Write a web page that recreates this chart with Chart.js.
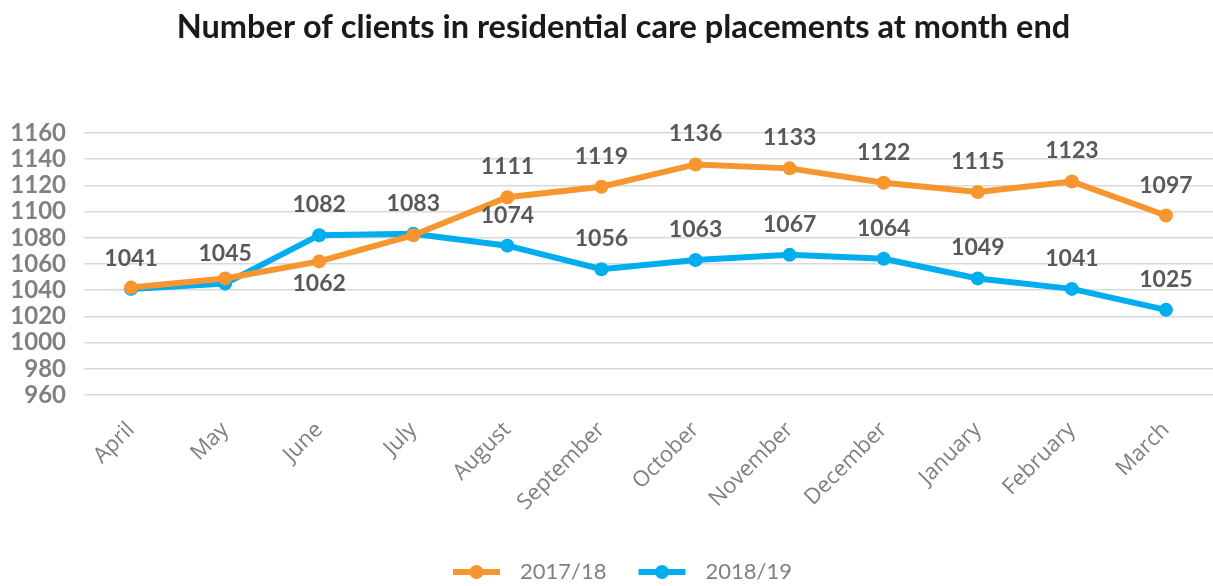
<!DOCTYPE html>
<html>
<head>
<meta charset="utf-8">
<script src="https://cdn.jsdelivr.net/npm/chart.js@4.4.0/dist/chart.umd.min.js"></script>
<style>
  html, body { margin: 0; padding: 0; background: #fff; overflow: hidden; }
  canvas { display: block; }
</style>
</head>
<body>
<canvas id="clientsChart" width="1213" height="586"></canvas>
<script>
const months = ['April', 'May', 'June', 'July', 'August', 'September', 'October', 'November', 'December', 'January', 'February', 'March'];
const series1Name = '2017/18';
const series2Name = '2018/19';
const clients1718 = [1042, 1049, 1062, 1082, 1111, 1119, 1136, 1133, 1122, 1115, 1123, 1097];
const clients1819 = [1041, 1045, 1082, 1083, 1074, 1056, 1063, 1067, 1064, 1049, 1041, 1025];
// which data labels are visible (others sit under the other series' label)
const show1718 = [false, false, true, false, true, true, true, true, true, true, true, true];
const below1718 = [false, false, true, false, false, false, false, false, false, false, false, false];
const show1819 = [true, true, true, true, true, true, true, true, true, true, true, true];
const yMin = 960;
const yMax = 1160;
const yStep = 20;
const chartTitle = 'Number of clients in residential care placements at month end';

const ORANGE = '#F7962F';
const BLUE = '#00AEEF';
const FONT = 'Lato, "Open Sans", sans-serif';

// title drawn by hand so it can sit a little right of centre like the original
const titlePlugin = {
  id: 'titlePlugin',
  afterDraw(chart) {
    const ctx = chart.ctx;
    ctx.save();
    ctx.font = 'bold 32.5px ' + FONT;
    ctx.fillStyle = '#1a1a1a';
    ctx.textAlign = 'center';
    ctx.textBaseline = 'middle';
    ctx.fillText(chartTitle, 623.5, 28);
    ctx.restore();
  }
};

const dataLabels = {
  id: 'dataLabels',
  afterDatasetsDraw(chart) {
    const ctx = chart.ctx;
    const flags = [show1718, show1819];
    ctx.save();
    ctx.font = 'bold 23px ' + FONT;
    ctx.fillStyle = '#595959';
    ctx.textAlign = 'center';
    ctx.textBaseline = 'alphabetic';
    chart.data.datasets.forEach((ds, di) => {
      const meta = chart.getDatasetMeta(di);
      meta.data.forEach((pt, i) => {
        if (!flags[di][i]) return;
        const below = di === 0 && below1718[i];
        const y = below ? pt.y + 30 : pt.y - 23;
        ctx.fillText(String(ds.data[i]), pt.x, y);
      });
    });
    ctx.restore();
  }
};

const bottomLegend = {
  id: 'bottomLegend',
  afterDraw(chart) {
    const ctx = chart.ctx;
    const items = [[series1Name, ORANGE], [series2Name, BLUE]];
    ctx.save();
    ctx.font = '22px ' + FONT;
    ctx.textBaseline = 'middle';
    ctx.textAlign = 'left';
    let x = 453;
    const y = 572;
    items.forEach(([name, color]) => {
      ctx.strokeStyle = color;
      ctx.lineWidth = 6;
      ctx.beginPath();
      ctx.moveTo(x, y);
      ctx.lineTo(x + 47, y);
      ctx.stroke();
      ctx.fillStyle = color;
      ctx.beginPath();
      ctx.arc(x + 23.5, y, 7, 0, Math.PI * 2);
      ctx.fill();
      ctx.fillStyle = '#808080';
      ctx.fillText(name, x + 67, y);
      x += 67 + ctx.measureText(name).width + 32;
    });
    ctx.restore();
  }
};

const ctx = document.getElementById('clientsChart').getContext('2d');
new Chart(ctx, {
  type: 'line',
  data: {
    labels: months,
    datasets: [
      {
        label: series1Name,
        data: clients1718,
        borderColor: ORANGE,
        backgroundColor: ORANGE,
        borderWidth: 6,
        pointRadius: 7,
        pointBorderWidth: 0,
        tension: 0,
        order: 1,
      },
      {
        label: series2Name,
        data: clients1819,
        borderColor: BLUE,
        backgroundColor: BLUE,
        borderWidth: 6,
        pointRadius: 7,
        pointBorderWidth: 0,
        tension: 0,
        order: 2,
      },
    ],
  },
  options: {
    responsive: false,
    animation: false,
    layout: { autoPadding: false, padding: { left: 0, right: 0, top: 133, bottom: 0 } },
    plugins: {
      legend: { display: false },
      tooltip: { enabled: false },
      title: { display: false },
    },
    scales: {
      x: {
        offset: true,
        grid: { display: false, drawTicks: false },
        border: { display: false },
        ticks: {
          color: '#808080',
          font: { family: '"Open Sans", sans-serif', size: 22 },
          minRotation: 45,
          maxRotation: 45,
          autoSkip: false,
          padding: 22,
        },
        afterFit(scale) {
          scale.height = 191;
          scale.paddingLeft = 0;
          scale.paddingRight = 0;
        },
      },
      y: {
        min: yMin,
        max: yMax,
        grid: { color: '#D9D9D9', lineWidth: 1.5, drawTicks: false },
        border: { display: false },
        ticks: {
          stepSize: yStep,
          autoSkip: false,
          color: '#808080',
          font: { family: FONT, size: 24, weight: 'bold' },
          padding: 18,
          callback: (v) => String(v),
        },
        afterFit(scale) { scale.width = 84; },
      },
    },
  },
  plugins: [titlePlugin, dataLabels, bottomLegend],
});
</script>
</body>
</html>
